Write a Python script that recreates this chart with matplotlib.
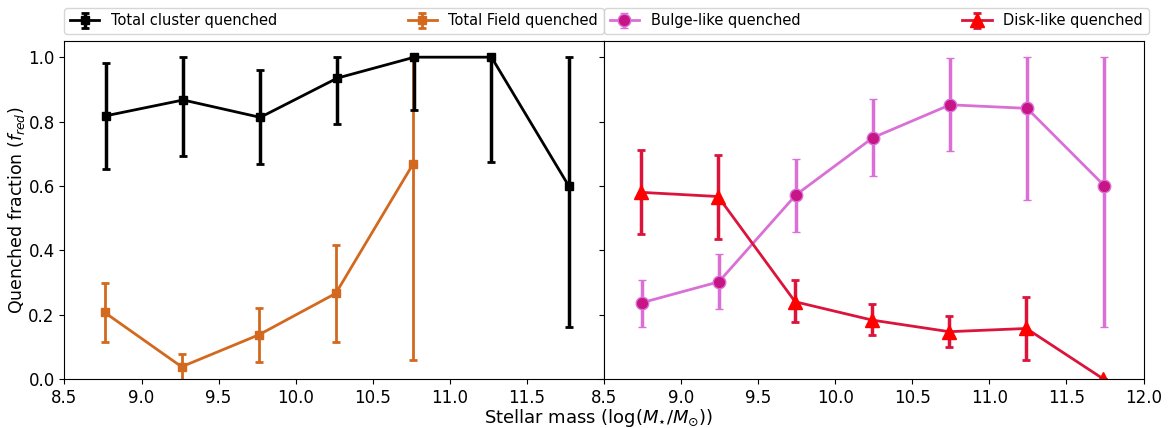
import numpy as np
import matplotlib
matplotlib.use("Agg")
import matplotlib.pyplot as plt

# ---
# Data

# cluster / field (left panel)
mass_cluster = [8.77, 9.27, 9.77, 10.27, 10.77, 11.27, 11.77]
frac_cluster = [0.818, 0.867, 0.813, 0.935, 1.0, 1.0, 0.601]
lo_cluster   = [0.654, 0.693, 0.668, 0.793, 0.836, 0.675, 0.163]
hi_cluster   = [0.981, 1.0, 0.960, 1.0, 1.0, 1.0, 1.0]

mass_field = [8.76, 9.26, 9.76, 10.26, 10.76]
frac_field = [0.207, 0.038, 0.137, 0.266, 0.667]
lo_field   = [0.115, -0.02, 0.053, 0.115, 0.059]
hi_field   = [0.298, 0.078, 0.221, 0.417, 1.0]

# bulge / disk (right panel)
mass_bulge = [8.745, 9.245, 9.745, 10.245, 10.745, 11.245, 11.745]
frac_bulge = [0.237, 0.302, 0.572, 0.750, 0.852, 0.841, 0.601]
lo_bulge   = [0.163, 0.217, 0.458, 0.632, 0.707, 0.556, 0.163]
hi_bulge   = [0.308, 0.389, 0.685, 0.870, 0.998, 1.0, 1.0]

mass_disk = [8.74, 9.24, 9.74, 10.24, 10.74, 11.24, 11.74]
frac_disk = [0.580, 0.567, 0.240, 0.183, 0.147, 0.157, 0.0]
lo_disk   = [0.452, 0.435, 0.177, 0.138, 0.100, 0.059, 0.0]
hi_disk   = [0.713, 0.696, 0.308, 0.232, 0.196, 0.255, 0.0]


def yerr(frac, lo, hi):
    frac = np.asarray(frac)
    return [frac - np.asarray(lo), np.asarray(hi) - frac]


# ---

fig, (ax1, ax2) = plt.subplots(1, 2, figsize=(11.72, 4.28), dpi=100, sharey=True)
fig.subplots_adjust(left=0.055, right=0.9757, bottom=0.1145, top=0.904, wspace=0)

ax1.errorbar(mass_field, frac_field, yerr=yerr(frac_field, lo_field, hi_field),
             color="chocolate", marker="s", ms=6, lw=2, elinewidth=2, capsize=3,
             capthick=2, label="Total Field quenched", zorder=2)
ax1.errorbar(mass_cluster, frac_cluster, yerr=yerr(frac_cluster, lo_cluster, hi_cluster),
             color="black", marker="s", ms=6, lw=2, elinewidth=2.5, capsize=3,
             capthick=2, label="Total cluster quenched", zorder=3)

ax2.errorbar(mass_bulge, frac_bulge, yerr=yerr(frac_bulge, lo_bulge, hi_bulge),
             color="orchid", marker="o", ms=9, mfc="mediumvioletred", mec="orchid",
             mew=1, lw=2, elinewidth=2.5, capsize=3, capthick=2,
             label="Bulge-like quenched")
ax2.errorbar(mass_disk, frac_disk, yerr=yerr(frac_disk, lo_disk, hi_disk),
             color="crimson", marker="^", ms=10, mfc="red", mec="red",
             lw=2, elinewidth=2.5, capsize=3, capthick=2,
             label="Disk-like quenched")

for ax in (ax1, ax2):
    ax.set_xlim(8.5, 12.0)
    ax.set_ylim(0, 1.05)
    ax.tick_params(labelsize=12)

ax1.set_xticks([8.5, 9.0, 9.5, 10.0, 10.5, 11.0, 11.5])
ax2.set_xticks([8.5, 9.0, 9.5, 10.0, 10.5, 11.0, 11.5, 12.0])
ax1.set_yticks([0.0, 0.2, 0.4, 0.6, 0.8, 1.0])
ax1.set_ylabel(r"Quenched fraction ($f_{red}$)", fontsize=12.5)
ax1.yaxis.set_label_coords(-0.069, 0.5)
fig.text(0.5106, 0.023, r"Stellar mass (log($M_{\star}/M_{\odot}$))", fontsize=13,
         ha="center", va="center")

h1, l1 = ax1.get_legend_handles_labels()
ax1.legend(h1[::-1], l1[::-1], bbox_to_anchor=(0, 1.02, 1, 0.102), loc="lower left",
           ncol=2, mode="expand", borderaxespad=0, fontsize=10.5)
ax2.legend(bbox_to_anchor=(0, 1.02, 1.01, 0.102), loc="lower left",
           ncol=2, mode="expand", borderaxespad=0, fontsize=10.5)

fig.savefig("out.png", dpi=100)
